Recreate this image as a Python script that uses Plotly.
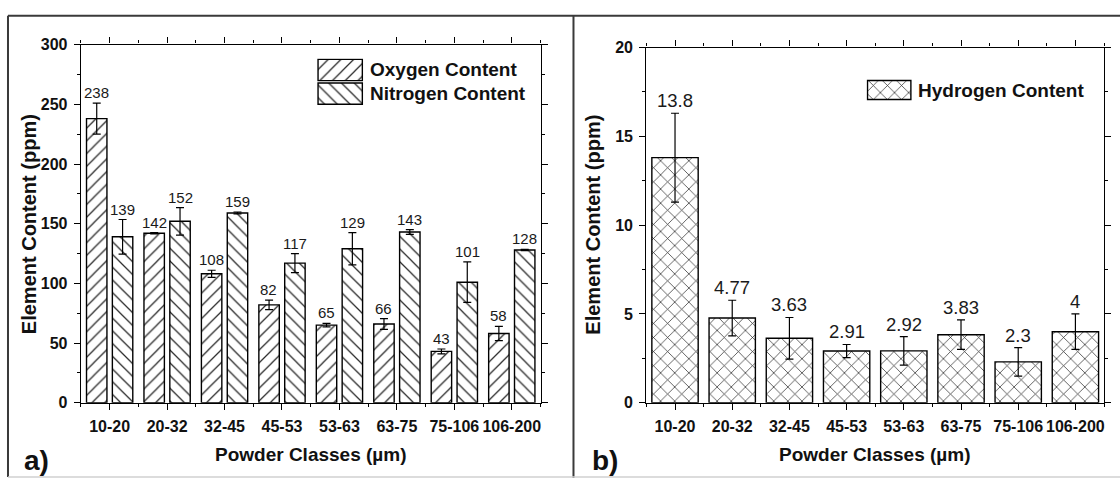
import plotly.graph_objects as go

# Powder size classes (µm)
classes = ["10-20", "20-32", "32-45", "45-53", "53-63", "63-75", "75-106", "106-200"]

# Oxygen / nitrogen content (ppm) with standard deviations
oxygen = [238, 142, 108, 82, 65, 66, 43, 58]
oxygen_err = [13, 0.5, 3, 4, 1.5, 4.5, 2, 6]
nitrogen = [139, 152, 159, 117, 129, 143, 101, 128]
nitrogen_err = [14.5, 11.5, 0.8, 8, 13.5, 2, 17, 0.5]

# Hydrogen content (ppm) with standard deviations
hydrogen = [13.8, 4.77, 3.63, 2.91, 2.92, 3.83, 2.3, 4]
hydrogen_err = [2.5, 1.0, 1.17, 0.37, 0.8, 0.83, 0.8, 1.0]

pos = list(range(len(classes)))

W, H = 1120, 487
FONT = "Liberation Sans, Arial, sans-serif"


def px(x):
    return x / W


def py(y):
    return 1 - y / H


def hatch(shape, size):
    return dict(shape=shape, size=size, solidity=0.14, fgcolor="#2a2a2a",
                bgcolor="white", fillmode="replace")


bar_line = dict(color="black", width=1.4)


def err(vals):
    return dict(type="data", array=vals, visible=True, color="black",
                thickness=1.2, width=4)


fig = go.Figure()

# Panel a): oxygen and nitrogen
fig.add_trace(go.Bar(x=pos, y=oxygen, name="Oxygen Content", error_y=err(oxygen_err),
                     marker=dict(color="white", line=bar_line, pattern=hatch("/", 9)),
                     xaxis="x", yaxis="y", showlegend=False))
fig.add_trace(go.Bar(x=pos, y=nitrogen, name="Nitrogen Content", error_y=err(nitrogen_err),
                     marker=dict(color="white", line=bar_line, pattern=hatch("\\", 9)),
                     xaxis="x", yaxis="y", showlegend=False))

# Panel b): hydrogen
fig.add_trace(go.Bar(x=pos, y=hydrogen, name="Hydrogen Content", error_y=err(hydrogen_err),
                     marker=dict(color="white", line=bar_line, pattern=hatch("x", 10)),
                     width=0.81, xaxis="x2", yaxis="y2", showlegend=False))

# Legend swatches drawn as patterned bars on small helper axes
fig.add_trace(go.Bar(y=[0], x=[1], base=0, orientation="h", width=0.9,
                     marker=dict(color="white", line=bar_line, pattern=hatch("/", 9)),
                     xaxis="x3", yaxis="y3", showlegend=False, hoverinfo="skip"))
fig.add_trace(go.Bar(y=[1], x=[1], base=0, orientation="h", width=0.9,
                     marker=dict(color="white", line=bar_line, pattern=hatch("\\", 9)),
                     xaxis="x3", yaxis="y3", showlegend=False, hoverinfo="skip"))
fig.add_trace(go.Bar(y=[0], x=[1], base=0, orientation="h", width=0.9,
                     marker=dict(color="white", line=bar_line, pattern=hatch("x", 10)),
                     xaxis="x4", yaxis="y4", showlegend=False, hoverinfo="skip"))

tickfont = dict(family=FONT, size=16, color="#111111", weight="bold")


def xaxis(domain, anchor):
    return dict(domain=domain, anchor=anchor, range=[-0.5, 7.5],
                tickmode="array", tickvals=pos, ticktext=classes,
                ticks="outside", ticklen=6, tickwidth=1.2, tickcolor="black",
                minor=dict(tickmode="linear", tick0=0.5, dtick=1, ticks="outside",
                           ticklen=3, tickwidth=1.2, tickcolor="black"),
                showline=True, linecolor="black", linewidth=1.4, mirror="allticks",
                showgrid=False, zeroline=False, tickfont=tickfont,
                ticklabelstandoff=3, fixedrange=True)


def yaxis(domain, anchor, rng, dtick):
    return dict(domain=domain, anchor=anchor, range=rng, dtick=dtick,
                ticks="outside", ticklen=6, tickwidth=1.2, tickcolor="black",
                minor=dict(dtick=dtick / 2, ticks="outside", ticklen=3,
                           tickwidth=1.2, tickcolor="black"),
                showline=True, linecolor="black", linewidth=1.4, mirror="allticks",
                showgrid=False, zeroline=False, tickfont=tickfont,
                ticklabelstandoff=3, fixedrange=True)


hidden = dict(visible=False, fixedrange=True, showgrid=False, zeroline=False)

fig.update_layout(
    width=W, height=H, autosize=False,
    margin=dict(l=0, r=0, t=0, b=0),
    paper_bgcolor="white", plot_bgcolor="white",
    barmode="group", bargap=0.1, bargroupgap=0.21,
    xaxis=xaxis([px(81), px(541)], "y"),
    yaxis=yaxis([py(409), py(38)], "x", [0, 300], 50),
    xaxis2=xaxis([px(647), px(1105)], "y2"),
    yaxis2=yaxis([py(409), py(41)], "x2", [0, 20], 5),
    xaxis3=dict(domain=[px(317), px(364)], anchor="y3", range=[-0.03, 1.03], **hidden),
    yaxis3=dict(domain=[py(101), py(52)], anchor="x3", range=[1.5, -0.5], **hidden),
    xaxis4=dict(domain=[px(867), px(913)], anchor="y4", range=[-0.03, 1.03], **hidden),
    yaxis4=dict(domain=[py(97), py(73)], anchor="x4", range=[-0.55, 0.55], **hidden),
    font=dict(family=FONT, color="#1a1a1a"),
)

ann = []

# Value labels above the error bars
for i in pos:
    ann.append(dict(x=i, y=oxygen[i] + oxygen_err[i], xref="x", yref="y",
                    text=str(oxygen[i]), showarrow=False, yanchor="bottom",
                    xshift=-13, font=dict(size=15)))
    ann.append(dict(x=i, y=nitrogen[i] + nitrogen_err[i], xref="x", yref="y",
                    text=str(nitrogen[i]), showarrow=False, yanchor="bottom",
                    xshift=13, font=dict(size=15)))
    ann.append(dict(x=i, y=hydrogen[i] + hydrogen_err[i], xref="x2", yref="y2",
                    text=f"{hydrogen[i]:g}", showarrow=False, yanchor="bottom",
                    font=dict(size=18.5)))

legend_font = dict(family=FONT, size=19, color="#111111")

# Legend texts
ann += [
    dict(x=px(368), y=py(64), xref="paper", yref="paper", text="<b>Oxygen Content</b>",
         showarrow=False, xanchor="left", yanchor="middle", font=legend_font),
    dict(x=px(368), y=py(89), xref="paper", yref="paper", text="<b>Nitrogen Content</b>",
         showarrow=False, xanchor="left", yanchor="middle", font=legend_font),
    dict(x=px(917), y=py(85), xref="paper", yref="paper", text="<b>Hydrogen Content</b>",
         showarrow=False, xanchor="left", yanchor="middle", font=legend_font),
]

# Axis titles
title_font = dict(family=FONT, size=19, color="#111111")
for cx, lx in [(311, 29), (876, 594)]:
    ann.append(dict(x=px(cx), y=py(463), xref="paper", yref="paper",
                    text="<b>Powder Classes (µm)</b>", showarrow=False,
                    xanchor="center", yanchor="middle", font=title_font))
    ann.append(dict(x=px(lx), y=py(224), xref="paper", yref="paper",
                    text="<b>Element Content (ppm)</b>", showarrow=False, textangle=-90,
                    xanchor="center", yanchor="middle",
                    font=dict(family=FONT, size=20, color="#111111")))

# Panel letters
for lx, letter in [(22, "a)"), (591, "b)")]:
    ann.append(dict(x=px(lx), y=py(469), xref="paper", yref="paper",
                    text=f"<b>{letter}</b>", showarrow=False, xanchor="left",
                    yanchor="middle", font=dict(family=FONT, size=28, color="#111111")))

fig.update_layout(annotations=ann)

# Panel frames
frame = dict(color="#3a3a3a", width=2)
shapes = [
    dict(type="line", xref="paper", yref="paper", x0=px(8), x1=1.01, y0=py(8), y1=py(8), line=frame),
    dict(type="line", xref="paper", yref="paper", x0=px(8), x1=px(8), y0=py(8), y1=py(486), line=frame),
    dict(type="line", xref="paper", yref="paper", x0=px(574), x1=px(574), y0=py(8), y1=py(487), line=frame),
    dict(type="line", xref="paper", yref="paper", x0=px(8), x1=1.01, y0=py(486), y1=py(486),
         line=dict(color="#d0d0d0", width=1.5)),
]
fig.update_layout(shapes=shapes)

fig.write_html("out.html")
